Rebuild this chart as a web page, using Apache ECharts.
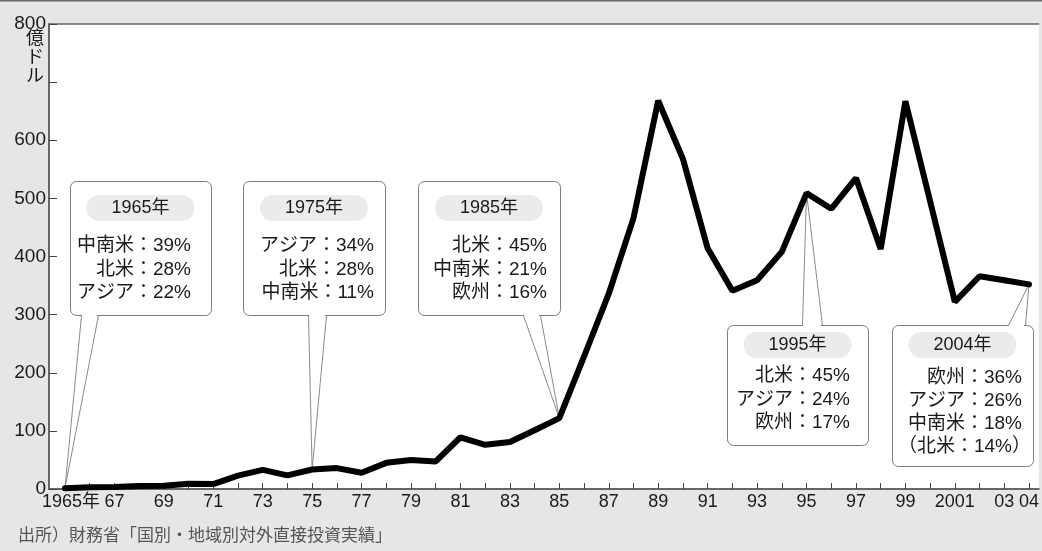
<!DOCTYPE html>
<html>
<head>
<meta charset="utf-8">
<script src="https://cdn.jsdelivr.net/npm/echarts@6/dist/echarts.min.js"></script>
<style>
  html, body { margin: 0; padding: 0; background: #e6e6e6; }
  #chart { width: 1042px; height: 551px; }
</style>
</head>
<body>
<div id="chart"></div>
<script>
// 日本の対外直接投資額（億ドル）
const years = [
  1965, 1966, 1967, 1968, 1969, 1970, 1971, 1972, 1973, 1974,
  1975, 1976, 1977, 1978, 1979, 1980, 1981, 1982, 1983, 1984,
  1985, 1986, 1987, 1988, 1989, 1990, 1991, 1992, 1993, 1994,
  1995, 1996, 1997, 1998, 1999, 2000, 2001, 2002, 2003, 2004
];
const investment = [
  1.5, 3, 3.5, 5, 5.5, 9, 8.5, 23, 33, 23.5,
  33.5, 36, 28, 45, 50, 47.5, 89, 76, 81, 101,
  122, 228, 336, 466, 668, 568, 414, 341, 359, 408,
  509, 482, 535, 413, 667, 495, 322, 366, 359, 352
];

// 目盛り
const yTicks = [0, 100, 200, 300, 400, 500, 600, 700, 800];
const yHiddenTicks = [700];
const xLabelYears = [1965, 1967, 1969, 1971, 1973, 1975, 1977, 1979, 1981, 1983,
  1985, 1987, 1989, 1991, 1993, 1995, 1997, 1999, 2001, 2003, 2004];
const xLabelText = {1965: '1965年', 2001: '2001', 2003: '03', 2004: '04'};

// 地域別シェアの吹き出し
const calloutYears = [1965, 1975, 1985, 1995, 2004];
const calloutTitles = ['1965年', '1975年', '1985年', '1995年', '2004年'];
const calloutLines = [
  ['中南米：39%', '北米：28%', 'アジア：22%'],
  ['アジア：34%', '北米：28%', '中南米：11%'],
  ['北米：45%', '中南米：21%', '欧州：16%'],
  ['北米：45%', 'アジア：24%', '欧州：17%'],
  ['欧州：36%', 'アジア：26%', '中南米：18%', '（北米：14%）']
];

const unitText = '億\nド\nル';
const sourceText = '出所）財務省「国別・地域別対外直接投資実績」';

// 吹き出しの配置（px）
const calloutLayout = [
  {x: 70,  y: 181, w: 141, h: 134, side: 'bottom', a: 81,   b: 98,   right: 191,  titleTop: 195, lineTop: 246, gap: 23.5},
  {x: 243, y: 181, w: 142, h: 134, side: 'bottom', a: 308,  b: 326,  right: 374,  titleTop: 195, lineTop: 246, gap: 23.5},
  {x: 418, y: 181, w: 142, h: 134, side: 'bottom', a: 523,  b: 540,  right: 547,  titleTop: 195, lineTop: 246, gap: 23.5},
  {x: 727, y: 325, w: 141, h: 120, side: 'top',    a: 802,  b: 822,  right: 850,  titleTop: 332, lineTop: 376, gap: 23.5},
  {x: 892, y: 325, w: 141, h: 141, side: 'top',    a: 1008, b: 1025, right: 1022, titleTop: 332, lineTop: 378, gap: 23}
];
// 全角括弧で始まる行は括弧の余白ぶん右へ寄せる
const bracketShift = 9;

const FONT = "'Liberation Sans', 'Noto Sans CJK JP', sans-serif";
const TEXT_COLOR = '#1a1a1a';

const chart = echarts.init(document.getElementById('chart'), null, {renderer: 'canvas'});

const xMin = 1965 - 16 / 24.8;
const xMax = 2004 + 9.8 / 24.8;

chart.setOption({
  backgroundColor: '#e6e6e6',
  animation: false,
  grid: {
    left: 49, right: 0, top: 24, bottom: 62,
    show: true, backgroundColor: '#ffffff', borderWidth: 0
  },
  xAxis: [
    {
      type: 'value', min: xMin, max: xMax,
      splitLine: {show: false},
      axisLine: {show: true, lineStyle: {color: '#666', width: 2}},
      axisTick: {show: true, inside: true, length: 6, customValues: years,
        lineStyle: {color: '#444', width: 1}},
      axisLabel: {
        show: true, customValues: xLabelYears, margin: 4,
        fontFamily: FONT, fontSize: 18, color: TEXT_COLOR,
        formatter: function (v) {
          if (v === 1965) return '{first|' + xLabelText[1965] + '}';
          if (xLabelText[v]) return xLabelText[v];
          return String(v).slice(2);
        },
        rich: {
          first: {fontFamily: FONT, fontSize: 18, color: TEXT_COLOR, padding: [0, 0, 0, 12]}
        }
      }
    },
    {
      type: 'value', min: xMin, max: xMax, position: 'top',
      splitLine: {show: false},
      axisLine: {show: true, lineStyle: {color: '#666', width: 1.5}},
      axisTick: {show: false}, axisLabel: {show: false}
    }
  ],
  yAxis: {
    type: 'value', min: 0, max: 800, interval: 100,
    splitLine: {show: false},
    axisLine: {show: true, lineStyle: {color: '#666', width: 2}},
    axisTick: {show: true, inside: true, length: 8, customValues: yTicks,
      lineStyle: {color: '#444', width: 1}},
    axisLabel: {
      margin: 3, fontFamily: FONT, fontSize: 19, color: TEXT_COLOR,
      formatter: function (v) { return yHiddenTicks.indexOf(v) >= 0 ? '' : String(v); }
    }
  },
  series: [{
    type: 'line',
    xAxisIndex: 0,
    data: years.map((y, i) => [y, investment[i]]),
    symbol: 'none',
    z: 5,
    lineStyle: {color: '#000', width: 6, join: 'bevel', cap: 'round'}
  }]
});

// 吹き出しと注記
const graphics = [];
graphics.push({
  type: 'rect', shape: {x: 0, y: 0, width: 1042, height: 1.5},
  style: {fill: '#666'}, z: 1, silent: true
});
graphics.push({
  type: 'text', x: 35, y: 30, z: 1, silent: true,
  style: {text: unitText, fontFamily: FONT, fontSize: 18, lineHeight: 19,
    fill: TEXT_COLOR, align: 'center', verticalAlign: 'top'}
});
graphics.push({
  type: 'text', x: 18, y: 536, z: 1, silent: true,
  style: {text: sourceText, fontFamily: FONT, fontSize: 17,
    fill: '#555', align: 'left', verticalAlign: 'middle'}
});

calloutYears.forEach(function (yr, i) {
  const L = calloutLayout[i];
  const idx = years.indexOf(yr);
  const tip = chart.convertToPixel({xAxisIndex: 0, yAxisIndex: 0}, [yr, investment[idx]]);
  const edge = L.side === 'bottom' ? L.y + L.h + 0.5 : L.y + 0.5;
  const cx = L.x + L.w / 2;

  graphics.push({
    type: 'rect', z: 1, silent: true,
    shape: {x: L.x + 0.5, y: L.y + 0.5, width: L.w, height: L.h, r: 6},
    style: {fill: '#fff', stroke: '#7d7d7d', lineWidth: 1}
  });
  graphics.push({
    type: 'line', z: 1, silent: true,
    shape: {x1: L.a + 1, y1: edge, x2: L.b - 1, y2: edge},
    style: {stroke: '#fff', lineWidth: 3}
  });
  [L.a, L.b].forEach(function (px) {
    graphics.push({
      type: 'line', z: 1, silent: true,
      shape: {x1: px + 0.5, y1: edge, x2: tip[0], y2: tip[1]},
      style: {stroke: '#8a8a8a', lineWidth: 1}
    });
  });
  graphics.push({
    type: 'rect', z: 1, silent: true,
    shape: {x: cx - 54, y: L.titleTop, width: 108, height: 26, r: 13},
    style: {fill: '#ebebeb'}
  });
  graphics.push({
    type: 'text', z: 1, silent: true, x: cx, y: L.titleTop + 13,
    style: {text: calloutTitles[i], fontFamily: FONT, fontSize: 18,
      fill: TEXT_COLOR, align: 'center', verticalAlign: 'middle'}
  });
  calloutLines[i].forEach(function (t, j) {
    const shift = t.charAt(0) === '（' ? bracketShift : 0;
    graphics.push({
      type: 'text', z: 1, silent: true, x: L.right + shift, y: L.lineTop + j * L.gap,
      style: {text: t, fontFamily: FONT, fontSize: 19,
        fill: TEXT_COLOR, align: 'right', verticalAlign: 'middle'}
    });
  });
});

chart.setOption({graphic: graphics});
</script>
</body>
</html>
